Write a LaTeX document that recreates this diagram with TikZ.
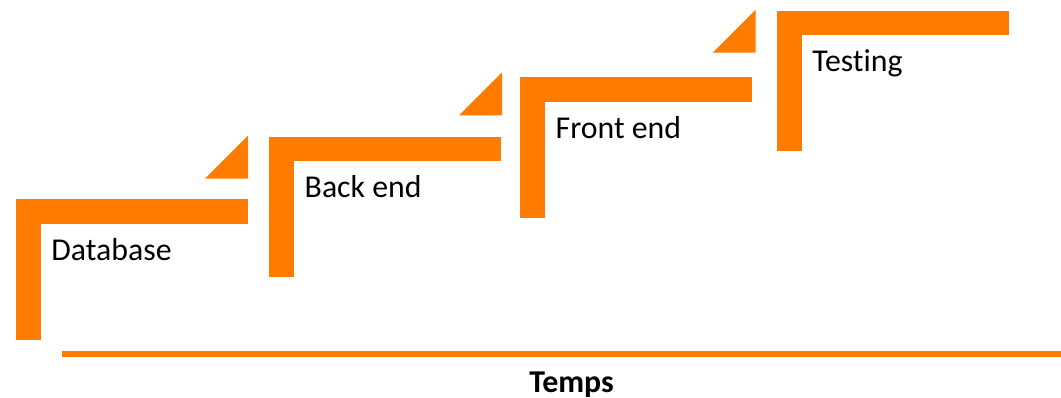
\documentclass[tikz,border=0pt]{standalone}
\usepackage{fontspec}
\setmainfont[Ligatures=NoCommon]{Carlito}
\usetikzlibrary{positioning}
\definecolor{steporange}{RGB}{255,124,0}
\tikzset{bar/.style={fill=steporange,draw=none}}
\tikzset{steplabel/.style={anchor=base west,inner sep=0pt,font=\fontsize{31.8}{38}\selectfont}}
\tikzset{timeline/.style={draw=steporange,line width=5.7pt}}
\begin{document}
\begin{tikzpicture}[x=1pt,y=1pt]
\useasboundingbox (0,0) rectangle (1061,398);
% steps
\foreach \x/\y/\name/\txt in {15.7/198.7/database/Database,269/261.3/backend/Back end,520/320.7/frontend/Front end,776.7/387/testing/Testing}
{
	\fill[bar] (\x,\y) rectangle ++(25,-140.5);
	\fill[bar] (\x,\y) rectangle ++(232,-24.5);
	\node[steplabel] (\name) at (\x+35.5,\y-61) {\txt};
}
\foreach \x/\y in {248/219.3,502/282.7,755.7/345.3}
	\fill[bar] (\x,\y) -- ++(-43,0) -- ++(43,43) -- cycle;

\coordinate (tstart) at (62,44.1);
\coordinate (tend) at (1061,44.1);
\draw[timeline] (tstart) -- (tend);
\node[anchor=base,inner sep=0pt,font=\fontsize{31.8}{38}\selectfont\bfseries] (temps) at (571.5,5.5) {Temps};
\end{tikzpicture}
\end{document}
